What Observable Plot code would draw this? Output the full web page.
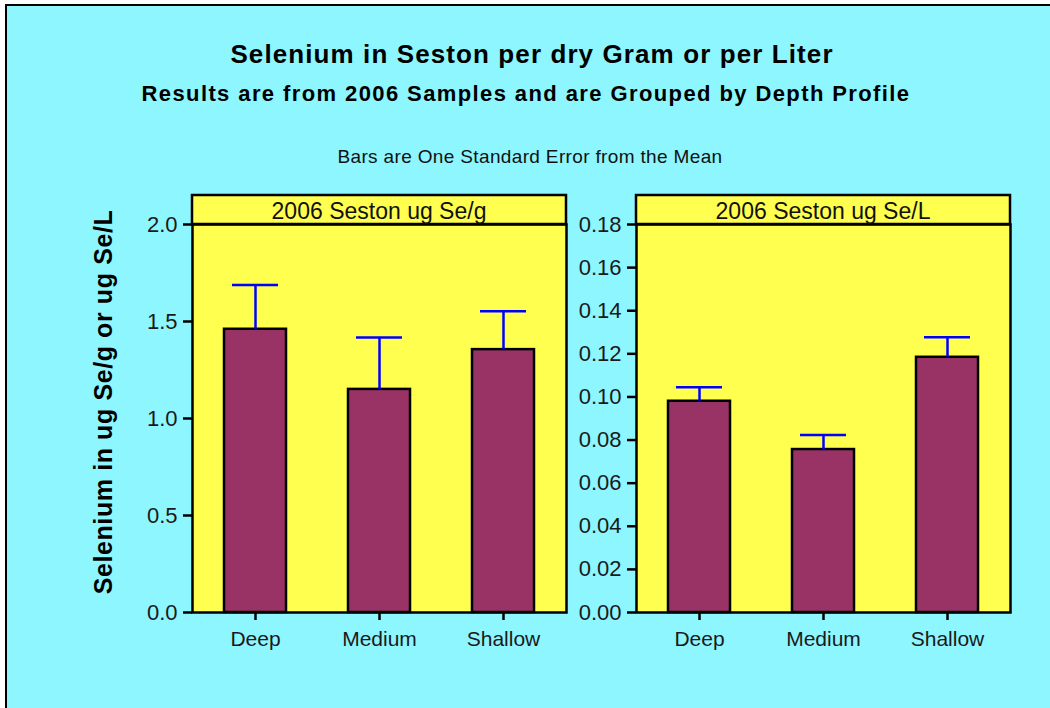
<!DOCTYPE html>
<html>
<head>
<meta charset="utf-8">
<script src="https://cdn.jsdelivr.net/npm/d3@7"></script>
<script src="https://cdn.jsdelivr.net/npm/@observablehq/plot@0.6"></script>
<style>
  html, body { margin: 0; padding: 0; background: #ffffff; }
  #root { position: relative; width: 1050px; height: 708px; overflow: hidden; font-family: "Liberation Sans", Arial, sans-serif; }
  #frame { position: absolute; left: 5px; top: 4px; width: 1100px; height: 800px; border: 2px solid #000; background: #8ef6ff; }
  .t { position: absolute; white-space: nowrap; text-align: center; line-height: 1; color: #000; }
  .panel { position: absolute; }
</style>
</head>
<body>
<div id="root">
  <div id="frame"></div>
  <div class="t" style="left:32px; top:41px; width:1000px; font-size:26px; font-weight:bold; letter-spacing:1.1px;">Selenium in Seston per dry Gram or per Liter</div>
  <div class="t" style="left:26px; top:83px; width:1000px; font-size:22px; font-weight:bold; letter-spacing:1.4px;">Results are from 2006 Samples and are Grouped by Depth Profile</div>
  <div class="t" style="left:30px; top:147px; width:1000px; font-size:19px; letter-spacing:0.35px; color:#111;">Bars are One Standard Error from the Mean</div>
  <div class="t" style="left:-147px; top:387px; width:500px; height:30px; line-height:30px; font-size:25px; font-weight:bold; letter-spacing:0.6px; transform:rotate(-90deg);">Selenium in ug Se/g or ug Se/L</div>
  <div id="p1" class="panel" style="left:100px; top:190px;"></div>
  <div id="p2" class="panel" style="left:570px; top:190px;"></div>
</div>
<script>
// ---- data ----
const depths = ["Deep", "Medium", "Shallow"];
const perGram = [1.46, 1.15, 1.355];
const perGramSE = [0.228, 0.268, 0.198];
const perLiter = [0.098, 0.0756, 0.1184];
const perLiterSE = [0.0065, 0.0067, 0.0093];
const panelTitles = ["2006 Seston ug Se/g", "2006 Seston ug Se/L"];
const gramTicks = [0, 0.5, 1.0, 1.5, 2.0];
const literTicks = [0, 0.02, 0.04, 0.06, 0.08, 0.10, 0.12, 0.14, 0.16, 0.18];

const COLORS = { bg: "#8ef6ff", panel: "#ffff50", bar: "#993366", err: "#0000ff" };

function makePanel(el, values, se, ticks, fmt, title, opts) {
  const data = depths.map((d, i) => ({ depth: d, value: values[i], upper: values[i] + se[i] }));
  const W = opts.width, H = 500, mt = 34, mb = 78, ml = opts.ml, mr = opts.mr;
  const chart = Plot.plot({
    width: W, height: H,
    marginTop: mt, marginBottom: mb, marginLeft: ml, marginRight: mr,
    style: { background: "transparent", fontFamily: "'Liberation Sans', Arial, sans-serif", fontSize: "22px", color: "#1a1a1a", overflow: "visible" },
    x: { domain: depths, paddingInner: 0.5, paddingOuter: 0.25, label: null },
    y: { domain: [0, ticks[ticks.length - 1]], label: null },
    marks: [
      Plot.frame({ fill: COLORS.panel }),
      Plot.barY(data, { x: "depth", y: "value", fill: COLORS.bar, stroke: "#000", strokeWidth: 2.5 }),
      Plot.ruleX(data, { x: "depth", y1: "value", y2: "upper", stroke: COLORS.err, strokeWidth: 2.5 }),
      Plot.tickY(data, { x: "depth", y: "upper", stroke: COLORS.err, strokeWidth: 2.5, inset: 8 }),
      Plot.frame({ stroke: "#000", strokeWidth: 2.5 }),
      Plot.axisY({ ticks: ticks, tickFormat: d3.format(fmt), tickSize: 9, tickPadding: 6, stroke: "#000", strokeWidth: 2.5, fontSize: 22, fill: "#1a1a1a", label: null }),
      Plot.axisX({ tickSize: 8, tickPadding: 11, stroke: "#000", strokeWidth: 2.5, fontSize: 21, fill: "#1a1a1a", label: null })
    ]
  });
  // panel header strip
  const svg = d3.select(chart);
  const pw = W - ml - mr;
  const g = svg.append("g");
  g.append("rect").attr("x", ml).attr("y", mt - 29).attr("width", pw).attr("height", 29)
    .attr("fill", COLORS.panel).attr("stroke", "#000").attr("stroke-width", 2.5);
  g.append("text").attr("x", ml + pw / 2).attr("y", mt - 5).attr("text-anchor", "middle")
    .attr("font-size", 23).attr("fill", "#111").text(title);
  el.appendChild(chart);
}

makePanel(document.getElementById("p1"), perGram, perGramSE, gramTicks, ".1f", panelTitles[0], { width: 470, ml: 92, mr: 4 });
makePanel(document.getElementById("p2"), perLiter, perLiterSE, literTicks, ".2f", panelTitles[1], { width: 450, ml: 66, mr: 10 });
</script>
</body>
</html>
